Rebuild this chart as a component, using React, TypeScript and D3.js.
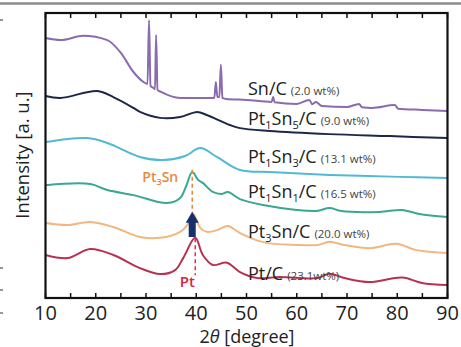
import * as d3 from 'd3'

// 2θ (degree) / intensity (a.u.) pairs
const snC: [number, number][] = [
  [10, 91.2], [13, 90.5], [17.5, 92], [22.3, 90.5], [25, 86], [27.5, 79.3], [29.5, 75.8],
  [30.3, 75.1], [30.6, 97.5], [30.9, 74.4], [31.5, 73.7], [31.8, 73.3], [32.0, 92.3], [32.3, 73],
  [33, 72.3], [36.8, 70.2], [40, 70.2], [43.3, 70.2], [43.6, 70.2], [43.9, 75.8], [44.2, 70.5],
  [44.6, 70.5], [44.9, 81.8], [45.2, 70.2], [46, 69.8], [50, 69.5], [55, 68.8], [55.3, 70.5],
  [55.6, 68.7], [60, 68.1], [62.5, 69.5], [63.1, 68], [63.8, 68.8], [65, 67.4], [70, 67],
  [72.4, 68.1], [73, 66.9], [75, 66.7], [79.5, 67.7], [80.2, 66.4], [85, 66], [90, 65.6],
]
const pt1sn5C: [number, number][] = [
  [10, 70.9], [13, 70.2], [20.3, 72.6], [23.5, 70.5], [27.5, 66.7], [28.8, 65.3], [32.8, 63.2],
  [36.8, 63.5], [40.2, 65.3], [42.1, 64.2], [46.7, 60.7], [48.7, 59.6], [54.6, 58.6],
  [66.5, 57.5], [78.5, 56.8], [90, 56.1],
]
const pt1sn3C: [number, number][] = [
  [10, 54.7], [18.3, 56.1], [22.3, 54.4], [28.8, 49.5], [33.4, 48.4], [37.8, 49.8],
  [40.8, 52.6], [44.1, 49.5], [48.7, 44.9], [54.6, 44.2], [66.5, 43.2], [80.4, 42.5], [90, 42.1],
]
const pt1sn1C: [number, number][] = [
  [10, 39.6], [18.9, 40], [22.3, 37.9], [27.5, 36.1], [34.2, 33.3], [36.8, 35.1], [38, 39.3],
  [39.2, 44.2], [40.4, 41.4], [41.3, 40.4], [43.3, 37.2], [45.1, 36.5], [46.3, 37.2],
  [48.7, 34.7], [53.3, 32.6], [60, 30.9], [64.2, 30.6], [66.5, 31.6], [68.9, 30.5],
  [76.5, 30.2], [81, 30.9], [84.4, 29.5], [90, 28.4],
]
const pt3snC: [number, number][] = [
  [10, 26.3], [14.4, 25.6], [18.9, 26.7], [23.5, 24.9], [28.8, 21.4], [32.8, 21.1],
  [36.8, 23.2], [38.2, 25.6], [39.4, 29.5], [40.8, 24.6], [42.1, 23.2], [44.3, 23.9],
  [46.3, 25.3], [48.7, 22.8], [53.3, 19.6], [60, 18.6], [64.2, 18.6], [66.5, 19.7],
  [69.5, 18.6], [74.5, 17.5], [79.8, 19], [83.8, 16.8], [90, 15.8],
]
const ptC: [number, number][] = [
  [10, 15.1], [14.4, 14], [18.9, 17.2], [23.5, 15.1], [28.8, 10.5], [32.8, 8.4], [35.8, 9.8],
  [37.4, 14], [39.8, 21.1], [41.3, 15.1], [43.3, 11.6], [46.1, 12.4], [48.7, 9.1],
  [52.1, 7], [56.6, 7.4], [64.2, 7], [66.5, 8.5], [69.5, 7], [74.5, 5.6], [81, 7.2],
  [84.9, 5.3], [90, 4.6],
]

const seriesData = [snC, pt1sn5C, pt1sn3C, pt1sn1C, pt3snC, ptC]
const seriesColors = ['#8a6bb0', '#1c2848', '#52b9d4', '#3ba78e', '#f2b67e', '#b8324f']
// label: main text parts with subscripts
const labelParts: [string, string][][] = [
  [['Sn/C', '']],
  [['Pt', '1'], ['Sn', '5'], ['/C', '']],
  [['Pt', '1'], ['Sn', '3'], ['/C', '']],
  [['Pt', '1'], ['Sn', '1'], ['/C', '']],
  [['Pt', '3'], ['Sn/C', '']],
  [['Pt/C', '']],
]
const loadings = ['(2.0 wt%)', '(9.0 wt%)', '(13.1 wt%)', '(16.5 wt%)', '(20.0 wt%)', '(23.1wt%)']
const labelBaselines = [95, 125, 163, 198, 238, 280]
const xTicks = [10, 20, 30, 40, 50, 60, 70, 80, 90]
const xMinor = d3.range(15, 90, 10)

const W = 461
const H = 347
const FONT = '"Open Sans", "DejaVu Sans", sans-serif'

export default function App() {
  const left = 45.5
  const right = 447.5
  const top = 13
  const bottom = 298
  const x = d3.scaleLinear().domain([10, 90]).range([left, right])
  const y = d3.scaleLinear().domain([0, 100]).range([bottom, top])
  const sharp = d3
    .line<[number, number]>()
    .x(d => x(d[0]))
    .y(d => y(d[1]))
    .curve(d3.curveMonotoneX)
  const smooth = d3
    .line<[number, number]>()
    .x(d => x(d[0]))
    .y(d => y(d[1]))
    .curve(d3.curveCatmullRom.alpha(0.5))

  // block arrow from Pt peak up to Pt3Sn peak
  const ax = x(39.2)
  const aBot = y(21.4)
  const aTip = y(30.3)
  const arrow = d3.path()
  arrow.moveTo(ax - 3.5, aBot)
  arrow.lineTo(ax - 3.5, aTip + 11)
  arrow.lineTo(ax - 6.5, aTip + 11)
  arrow.lineTo(ax, aTip)
  arrow.lineTo(ax + 6.5, aTip + 11)
  arrow.lineTo(ax + 3.5, aTip + 11)
  arrow.lineTo(ax + 3.5, aBot)
  arrow.closePath()

  return (
    <div style={{ position: 'fixed', left: 0, top: 0, width: W, height: H, background: '#fff' }}>
      <svg width={W} height={H} viewBox={`0 0 ${W} ${H}`} style={{ display: 'block' }}>
        <rect width={W} height={H} fill="#fff" />
        <line x1={0} x2={W} y1={3.5} y2={3.5} stroke="#8c8c8c" strokeWidth={2.5} />
        {[20, 268, 290, 313].map(v => (
          <line key={v} x1={0} x2={3} y1={v} y2={v} stroke="#555" strokeWidth={1.2} />
        ))}

        {seriesData.map((s, i) => (
          <path
            key={i}
            d={(i === 0 ? sharp(s) : smooth(s)) ?? ''}
            fill="none"
            stroke={seriesColors[i]}
            strokeWidth={2}
            strokeLinejoin="round"
          />
        ))}

        {/* dashed peak markers */}
        <line x1={x(39.2)} x2={x(39.2)} y1={y(45)} y2={y(30)} stroke="#e8893a" strokeWidth={1.5} strokeDasharray="4,3" />
        <line x1={x(39.8)} x2={x(39.8)} y1={y(21)} y2={y(8)} stroke="#e0304a" strokeWidth={1.5} strokeDasharray="4,3" />
        <path d={arrow.toString()} fill="#15306a" />
        <text x={x(39.2) - 14} y={182} textAnchor="end" fontFamily={FONT} fontSize={14} fontWeight={600} fill="#e8893a">
          Pt<tspan fontSize={9} dy={3}>3</tspan><tspan dy={-3}>Sn</tspan>
        </text>
        <text x={x(39.8) - 8} y={287} textAnchor="middle" fontFamily={FONT} fontSize={15} fontWeight={600} fill="#e0203a">
          Pt
        </text>

        {/* sample labels */}
        {labelParts.map((parts, i) => (
          <text key={i} x={248} y={labelBaselines[i]} fontFamily={FONT} fontSize={18} fill="#222">
            {parts.map(([main, sub], j) => (
              <tspan key={j}>
                <tspan dy={j > 0 && parts[j - 1][1] ? -4 : 0}>{main}</tspan>
                {sub && <tspan fontSize={11} dy={4}>{sub}</tspan>}
              </tspan>
            ))}
            <tspan fontSize={11.5} fill="#444" dx={4}>{loadings[i]}</tspan>
          </text>
        ))}

        {/* frame and ticks */}
        <rect x={left} y={top} width={right - left} height={bottom - top} fill="none" stroke="#111" strokeWidth={2.2} />
        {[...xTicks, ...xMinor].map(t => (
          <g key={t}>
            <line x1={x(t)} x2={x(t)} y1={bottom} y2={bottom - 5} stroke="#111" strokeWidth={1.5} />
            <line x1={x(t)} x2={x(t)} y1={top} y2={top + 5} stroke="#111" strokeWidth={1.5} />
          </g>
        ))}
        {xTicks.map(t => (
          <text key={t} x={x(t)} y={320} textAnchor="middle" fontFamily={FONT} fontSize={20} fill="#222">
            {t}
          </text>
        ))}
        <text x={247} y={343} textAnchor="middle" fontFamily={FONT} fontSize={18} fill="#222">
          2<tspan fontStyle="italic">θ</tspan> [degree]
        </text>
        <text
          transform={`translate(29, 155) rotate(-90)`}
          textAnchor="middle"
          fontFamily={FONT}
          fontSize={18.5}
          fill="#222"
        >
          Intensity [a. u.]
        </text>
      </svg>
    </div>
  )
}
